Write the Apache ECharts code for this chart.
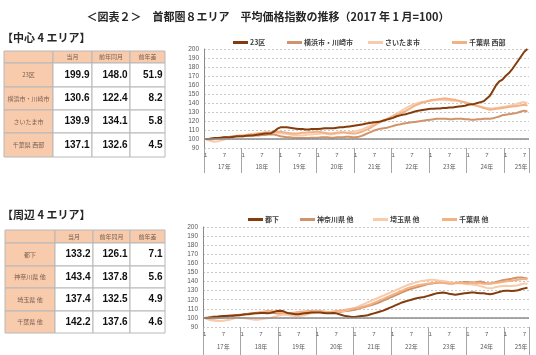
<!DOCTYPE html>
<html><head><meta charset="utf-8">
<script src="https://cdn.jsdelivr.net/npm/echarts@6/dist/echarts.min.js"></script>
<style>html,body{margin:0;padding:0;background:#fff}#c{width:536px;height:355px}</style>
</head><body><div id="c"></div>
<script>
// ---------- data ----------
const yearLabels = ['17年','18年','19年','20年','21年','22年','23年','24年','25年'];
const monthsInYear = [12,12,12,12,12,12,12,12,8];
const tableHeaders = ['当月','前年同月','前年差'];

const centerNames = ['23区','横浜市・川崎市','さいたま市','千葉県 西部'];
const centerCurrent = [199.9,130.6,139.9,137.1];
const centerYearAgo = [148.0,122.4,134.1,132.6];
const centerDiff = [51.9,8.2,5.8,4.5];

const outerNames = ['都下','神奈川県 他','埼玉県 他','千葉県 他'];
const outerCurrent = [133.2,143.4,137.4,142.2];
const outerYearAgo = [126.1,137.8,132.5,137.6];
const outerDiff = [7.1,5.6,4.9,4.6];

const s23ku = [
100,100,100.5,101,101,101.5,102,102,102,102.5,103,103,
103,103.5,104,104,104.5,105,105.5,106,106,106.5,108.5,111.5,
113,113,113,112.5,112,111.5,111,111,110.5,110.5,111,111,
111,111.5,112,112,112,112,112.5,113,113,113.5,114,114.5,
115,115.5,116,117,117.5,118,118.5,119,119.5,120.5,121.5,122.5,
123.5,125,126,127,127.5,128.5,129.5,130.5,131.5,132,132.5,133,
133.5,133.5,134,134,134.5,134.5,135,135,135.5,136,136.5,137,
138,138.5,139,140,141,142,145,148,154,160,164,166,
170,173,177,182,187,192,197,199.9];
const sYokohama = [
100,100,100.5,101,101,101.5,102,102,102.5,102.5,103,103,
103,103.5,103.5,104,104,104,104.5,104.5,105,105,105,104,
103,102.5,102,102,101.5,101.5,101,101,101,101,101.5,101.5,
101.5,102,102,102,101.5,101.5,102,102,102,102.5,102.5,102,
102,102.5,103.5,105,106.5,108,109.5,110.5,111.5,112,112.5,113.5,
114.5,115.5,116,117,117.5,118,118.5,119,119.5,120,120.5,121,
121.5,122,122.5,122.5,122.5,122.5,122,122,122.5,122.5,122.5,122,
122,121.5,121.5,122,122,122.5,122.5,122.4,123,124,125,126.5,
127,127.5,128,128.5,129.5,130.5,131.5,130.6];
const sSaitama = [
100,98.5,97.5,97,97.5,98.5,99.5,100.5,101.5,102,103,103.5,
104,104.5,105,105.5,106,106.5,107,107.5,108,108,107.5,107,
106.5,106,105.5,105,104.5,104.5,104,104,104.5,105,105,105.5,
105.5,106,106,105.5,105,105.5,106,106.5,107,107,107.5,108,
108.5,109.5,110.5,112,113.5,115,116.5,118,119.5,121,122.5,124,
126,128,130,132,134,136,137.5,139,140,141,141.5,142,
142.5,143,143.5,143.5,143.5,143,143,142.5,142.5,142,141.5,141,
140,139,138,137,136,135,134.5,134.1,134,134.5,135,135.5,
136,137,137.5,138.5,139.5,140.5,141,139.9];
const sChibaWest = [
100,99.5,99.5,100,100.5,101,101.5,102,102.5,103,103.5,104,
104,104.5,105,105,105.5,106,106,106.5,107,107,107.5,108,
108,107.5,107,106.5,106,106,106.5,107,107,107.5,107.5,108,
108,107.5,107,106.5,106,106.5,107,107.5,107.5,107,106.5,106,
106,107,108,109.5,111,113,115,117,119,120.5,122,123.5,
125,126.5,128,129.5,131,133,135,137,138.5,140,141,142,
143,143.5,144,144.5,145,145,144.5,144,143.5,142.5,141.5,140.5,
139.5,138.5,137.5,136.5,135.5,134.5,133.5,132.6,133,133.5,134,134.5,
135,135.5,136,136.5,137,137.5,138,137.1];

const sToka = [
100,100,100.5,101,101,101.5,102,102,102.5,102.5,103,103,
103.5,104,104,104.5,105,105,105.5,105.5,105,105.5,106.5,107.5,
108,107.5,106,105,104.5,104,104,104.5,105,105.5,106,106,
106,106,105.5,105,105,105.5,105,104,103,102,101.5,101,
101,101.5,102,102.5,103,104,105,106,107,108,109.5,111,
112.5,114,115.5,117,118,119,120,121,122,122.5,123,124,
125,126,127,127.5,128,127.5,126.5,126,125.5,126,126.5,127,
127.5,128,128,127.5,127,127,126.5,126.1,126.5,127.5,128.5,129.5,
130,130,129.5,130,130.5,131.5,132.5,133.2];
const sKanagawa = [
100,100.5,101,101.5,101.5,102,102,102.5,102.5,103,103,103.5,
103.5,104,104.5,105,105,105.5,106,106,106.5,106,105.5,105,
104.5,104,104.5,105,105,105.5,106,106,106.5,107,107,107,
107,106.5,106,106,105.5,105.5,106,106.5,107,107.5,108,108.5,
109,110,111,112,113,114,115,116,117.5,119,120.5,122,
123.5,125,126.5,128,129.5,131,132,133,134,135,136,137,
137.5,138,138.5,139,139,138.5,138,138,138.5,139,139,139.5,
139.5,139,139,139.5,140,139,138,137.8,138.5,139.5,140.5,141.5,
142,142.5,143,144,144.5,144.5,144,143.4];
const sSaitamaOther = [
100,98.5,97.5,97,96.5,96.5,97,97.5,98,99,100,100.5,
100,99.5,99,98.5,98,98,98.5,99,99.5,100,101,102,
103,103.5,103.5,103,102.5,102,102,102.5,103,104,105,106,
106.5,107,107,106.5,106,106,106.5,107,107.5,108,109,110,
111,112.5,114,115.5,117,118.5,120,121.5,123,124.5,126,127.5,
129,130.5,132,133.5,135,136.5,137.5,138.5,139.5,140.5,141,141.5,
142,142,141.5,141,140.5,140,139.5,139,138.5,138,138,137.5,
137,137,136.5,136,135,134,133,132.5,133,134,134.5,135,
135.5,135,135,135.5,136,137,138,137.4];
const sChibaOther = [
100,99.5,99,99,99.5,100,100.5,101,101.5,102,102.5,103,
103.5,104,104.5,105,105.5,106,106.5,107,107.5,107.5,107,106.5,
106,105.5,105,105,105.5,106,106.5,107,107,107.5,107.5,108,
108,107.5,107,106.5,106.5,107,107.5,108,108.5,109,109.5,110,
110.5,111,112,113,114,115,116.5,118,119.5,121,122.5,124,
125.5,127,128.5,130,131.5,133,134,135,136,136.5,137,137.5,
138,138.5,139,139,138.5,138,137.5,137.5,138,138.5,138.5,138,
138,138.5,138.5,138,138,137.5,137.5,137.6,138,138.5,139,139.5,
140,140.5,141,141.5,142,142.5,143,142.2];

// ---------- categories ----------
const categories = [], catMonth = [], catYear = [];
yearLabels.forEach((yl, yi) => {
  for (let m = 1; m <= monthsInYear[yi]; m++) {
    categories.push(yl + m + '月'); catMonth.push(m); catYear.push(yi);
  }
});

const FJ = '"Noto Sans CJK JP","Noto Sans",sans-serif';
const FN = '"Liberation Sans",Arial,sans-serif';
const C_DARK = '#843C0C', C_MED = '#D0936A', C_LIGHT = '#F8CBAD', C_ORANGE = '#F4B183';
const PEACH = '#F8CBAD', BORDER = '#b8b8b8';

function monthAxis(g, margin, tickLen) {
  return {
    type: 'category', gridIndex: g, data: categories, boundaryGap: true,
    axisLine: { show: false },
    axisTick: { show: true, interval: (i) => catMonth[i] === 1, length: tickLen, lineStyle: { color: '#a6a6a6', width: 1 } },
    axisLabel: { interval: (i) => catMonth[i] === 1 || catMonth[i] === 7,
      formatter: (v) => String(catMonth[categories.indexOf(v)]),
      fontSize: 6, color: '#595959', margin: margin, fontFamily: FN },
    splitLine: { show: false }
  };
}
function yearAxis(g, margin) {
  return {
    type: 'category', gridIndex: g, data: categories, boundaryGap: true, position: 'bottom',
    axisLine: { show: false }, axisTick: { show: false },
    axisLabel: { interval: (i) => catMonth[i] === (monthsInYear[catYear[i]] === 12 ? 7 : 6),
      formatter: (v) => yearLabels[catYear[categories.indexOf(v)]],
      fontSize: 6, color: '#595959', margin: margin, fontFamily: FJ },
    splitLine: { show: false }
  };
}
function valAxis(g) {
  return {
    type: 'value', gridIndex: g, min: 90, max: 200, interval: 10,
    axisLine: { show: true, lineStyle: { color: '#8c8c8c', width: 1 } },
    axisTick: { show: false },
    axisLabel: { fontSize: 6.5, color: '#595959', margin: 5, fontFamily: FN },
    splitLine: { lineStyle: { color: '#c8c8c8', type: [2, 2], width: 1 } }
  };
}
const line100 = { silent: true, symbol: 'none', label: { show: false },
  lineStyle: { color: '#8c8c8c', width: 1.6, type: 'solid' }, data: [{ yAxis: 100 }] };

function mkSeries(name, data, color, xi, yi, withMark) {
  const s = { name, type: 'line', data, xAxisIndex: xi, yAxisIndex: yi, symbol: 'none',
    lineStyle: { color, width: 2 }, itemStyle: { color } };
  if (withMark) s.markLine = line100;
  return s;
}
function mkLegend(name, left, top) {
  return { data: [name], left, top, selectedMode: false, icon: 'rect', itemWidth: 15, itemHeight: 3,
    textStyle: { fontSize: 7, fontWeight: 'bold', color: '#404040', fontFamily: FJ, padding: [0, 0, 0, -3] } };
}

function buildTable(xs, ys, names, cur, ago, diff) {
  const els = [];
  for (let r = 0; r < 5; r++) {
    for (let c = 0; c < 4; c++) {
      const x = xs[c], y = ys[r], w = xs[c + 1] - xs[c], h = ys[r + 1] - ys[r];
      const fill = (r === 0 || c === 0) ? PEACH : '#ffffff';
      els.push({ type: 'rect', shape: { x, y, width: w, height: h }, style: { fill, stroke: BORDER, lineWidth: 1 }, silent: true });
      let txt = null, align = 'center', tx = x + w / 2, font = '6px ' + FJ, col = '#7a6050';
      if (r === 0 && c > 0) txt = tableHeaders[c - 1];
      else if (r > 0 && c === 0) { txt = names[r - 1]; font = '6px ' + FJ; }
      else if (r > 0) {
        const v = [cur, ago, diff][c - 1][r - 1];
        txt = v.toFixed(1); align = 'right'; tx = x + w - 2.5; font = 'bold 10px ' + FN; col = '#111';
      }
      if (txt !== null) els.push({ type: 'text', x: tx, y: y + h / 2, silent: true,
        style: { text: txt, font, fill: col, textAlign: align, align, textVerticalAlign: 'middle', verticalAlign: 'middle' } });
    }
  }
  return els;
}

const graphics = [
  { type: 'text', x: 2, y: 38, style: { text: '【中心 4 エリア】', font: 'bold 11px ' + FJ, fill: '#262626', textVerticalAlign: 'middle', verticalAlign: 'middle' } },
  { type: 'text', x: 2, y: 215, style: { text: '【周辺 4 エリア】', font: 'bold 11px ' + FJ, fill: '#262626', textVerticalAlign: 'middle', verticalAlign: 'middle' } }
].concat(
  buildTable([4, 53, 92, 130, 165], [51, 63, 87, 110, 133, 157], centerNames, centerCurrent, centerYearAgo, centerDiff),
  buildTable([5, 55, 93, 130, 165], [230, 243, 266, 288, 311, 333], outerNames, outerCurrent, outerYearAgo, outerDiff)
);

const option = {
  animation: false,
  backgroundColor: '#ffffff',
  textStyle: { fontFamily: FJ },
  title: { text: '＜図表２＞　首都圏８エリア　平均価格指数の推移（2017 年 1 月=100）', left: 'center', top: 6,
    textStyle: { fontSize: 11, fontWeight: 'bold', color: '#262626', fontFamily: FJ } },
  grid: [{ left: 204, right: 7, top: 49, height: 99 }, { left: 203, right: 7, top: 227, height: 100 }],
  xAxis: [monthAxis(0, 4, 25), yearAxis(0, 16), monthAxis(1, 4, 30), yearAxis(1, 17)],
  yAxis: [valAxis(0), valAxis(1)],
  legend: [
    mkLegend(centerNames[0], 228, 34), mkLegend(centerNames[1], 282, 34),
    mkLegend(centerNames[2], 363, 34), mkLegend(centerNames[3], 447, 34),
    mkLegend(outerNames[0], 243, 211), mkLegend(outerNames[1], 295, 211),
    mkLegend(outerNames[2], 368, 211), mkLegend(outerNames[3], 437, 211)
  ],
  series: [
    mkSeries(centerNames[1], sYokohama, C_MED, 0, 0, true),
    mkSeries(centerNames[2], sSaitama, C_LIGHT, 0, 0, false),
    mkSeries(centerNames[3], sChibaWest, C_ORANGE, 0, 0, false),
    mkSeries(centerNames[0], s23ku, C_DARK, 0, 0, false),
    mkSeries(outerNames[1], sKanagawa, C_MED, 2, 1, true),
    mkSeries(outerNames[2], sSaitamaOther, C_LIGHT, 2, 1, false),
    mkSeries(outerNames[3], sChibaOther, C_ORANGE, 2, 1, false),
    mkSeries(outerNames[0], sToka, C_DARK, 2, 1, false)
  ],
  graphic: graphics
};
const chart = echarts.init(document.getElementById('c'), null, { renderer: 'canvas' });
chart.setOption(option);
</script></body></html>
